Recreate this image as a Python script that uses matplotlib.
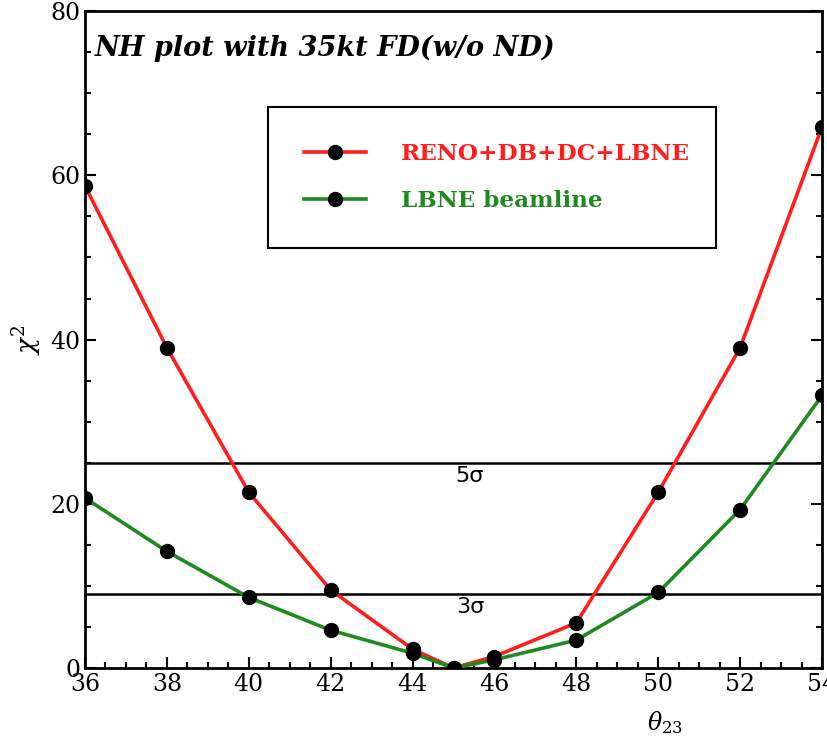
import numpy as np
import matplotlib.pyplot as plt
from matplotlib.ticker import MultipleLocator

theta23 = [36, 38, 40, 42, 44, 45, 46, 48, 50, 52, 54]
chi2_combined = [58.7, 39.0, 21.4, 9.5, 2.3, 0.0, 1.4, 5.5, 21.4, 39.0, 65.9]
chi2_lbne = [20.7, 14.2, 8.6, 4.6, 1.8, 0.0, 1.0, 3.4, 9.2, 19.3, 33.2]
sigma_levels = [25, 9]
sigma_labels = ['5σ', '3σ']

plt.rcParams['font.family'] = 'DejaVu Serif'
plt.rcParams['mathtext.fontset'] = 'dejavuserif'

fig = plt.figure(figsize=(8.27, 7.41), dpi=100)
ax = fig.add_axes([0.1028, 0.0985, 0.8912, 0.8865])

ax.plot(theta23, chi2_combined, color='#ff1e1e', lw=2.6, marker='o', ms=10,
        mfc='black', mec='black', label='RENO+DB+DC+LBNE', zorder=3)
ax.plot(theta23, chi2_lbne, color='#1f8a1f', lw=2.6, marker='o', ms=10,
        mfc='black', mec='black', label='LBNE beamline', zorder=3)

for lvl, lab in zip(sigma_levels, sigma_labels):
    ax.axhline(lvl, color='black', lw=1.8, zorder=2)
    ax.text(45.4, lvl - 0.4, lab, ha='center', va='top', fontsize=16,
            fontfamily='DejaVu Sans')

ax.set_xlim(36, 54)
ax.set_ylim(0, 80)
ax.xaxis.set_major_locator(MultipleLocator(2))
ax.xaxis.set_minor_locator(MultipleLocator(0.5))
ax.yaxis.set_major_locator(MultipleLocator(20))
ax.yaxis.set_minor_locator(MultipleLocator(5))
ax.tick_params(which='both', direction='in', left=True, right=True,
               bottom=True, top=False, width=1.5, labelsize=17)
ax.tick_params(which='major', length=8)
ax.tick_params(which='minor', length=4.5)
for s in ax.spines.values():
    s.set_linewidth(2)

ax.set_ylabel(r'$\chi^2$', fontsize=19)
ax.set_xlabel(r'$\theta_{23}$', fontsize=17)
ax.xaxis.set_label_coords(0.787, -0.062)

ax.text(0.013, 0.944, 'NH plot with 35kt FD(w/o ND)', transform=ax.transAxes,
        fontsize=19.5, fontweight='bold', fontstyle='italic', va='center')

leg = ax.legend(loc='upper left', bbox_to_anchor=(0.248, 0.647, 0.608, 0.207),
                mode='expand', borderaxespad=0, fancybox=False,
                edgecolor='black', framealpha=1, borderpad=1.55,
                labelspacing=1.1, handlelength=2.7, handletextpad=1.5,
                labelcolor='linecolor', prop={'weight': 'bold', 'size': 16.7})
leg.get_frame().set_linewidth(1.5)

fig.savefig('out.png', dpi=100)
